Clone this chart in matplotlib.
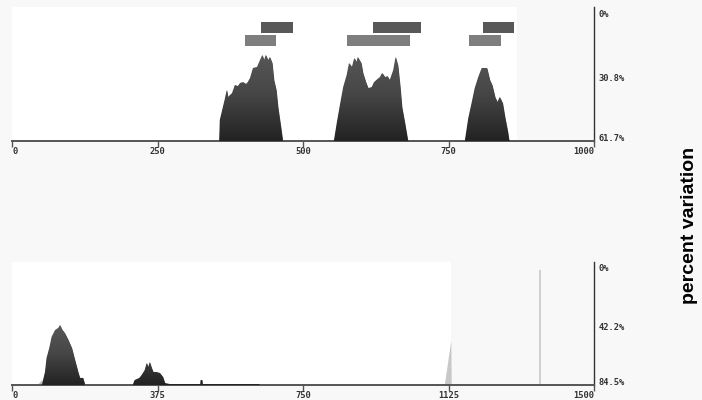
import matplotlib

matplotlib.use("Agg")

import matplotlib.pyplot as plt
import numpy as np
from matplotlib.colors import LinearSegmentedColormap

# ---- top track (length 868, axis 0-1000, scale 0-61.7) ----
top_len = 868
top_peaks = [
    ([349, 356, 357, 366, 369, 371, 378, 383, 388, 392, 397, 402, 405, 409, 414, 421,
      426, 430, 433, 436, 440, 443, 447, 450, 454, 457, 462, 465, 466],
     [0, 0, 10.1, 20.7, 24.6, 21.2, 23.1, 27.0, 26.5, 28.0, 28.4, 27.5, 28.4, 30.4, 35.2,
      35.7, 39.0, 41.5, 39.0, 41.5, 39.0, 40.5, 37.6, 29.4, 24.6, 16.4, 6.7, 0.5, 0]),
    ([553, 558, 564, 569, 575, 579, 584, 588, 592, 594, 600, 603, 608, 612, 618, 622,
      628, 632, 636, 641, 645, 649, 655, 659, 663, 667, 670, 675, 680, 681],
     [0, 8.7, 18.3, 26.0, 31.8, 37.6, 35.7, 40.0, 38.1, 40.5, 37.6, 32.8, 28.4, 25.5,
      26.0, 28.4, 29.9, 30.8, 32.8, 30.8, 31.3, 29.4, 34.2, 40.5, 36.6, 26.0, 16.4, 8.7,
      0.5, 0]),
    ([778, 784, 790, 795, 801, 807, 816, 821, 825, 830, 834, 838, 843, 847, 852, 854, 856],
     [0, 11.1, 18.8, 25.5, 30.8, 35.2, 35.2, 29.4, 27.0, 21.2, 18.8, 21.2, 18.3, 11.6,
      4.3, 0.5, 0]),
]
# feature boxes above the peaks: (start, end)
top_row1 = [(428, 483), (620, 703), (809, 862)]
top_row2 = [(400, 454), (576, 684), (785, 840)]
top_ticks = [0, 250, 500, 750, 1000]
top_scale = ["61.7%", "30.8%", "0%"]

# ---- bottom track (length 1132, axis 0-1500, scale 0-84.5) ----
bot_len = 1132
bot_peaks = [
    ([77, 85, 89, 96, 102, 111, 119, 124, 128, 136, 145, 154, 162, 171, 175, 183, 188],
     [0, 9.4, 19.5, 26.7, 34.7, 39.7, 41.2, 43.3, 40.4, 37.5, 32.5, 26.7, 18.1, 8.7,
      5.1, 5.1, 0]),
    ([311, 316, 328, 334, 342, 347, 351, 355, 359, 364, 372, 381, 389, 394, 407, 409],
     [0, 3.6, 5.1, 7.2, 10.8, 15.9, 13.0, 16.6, 13.0, 9.4, 9.4, 8.7, 5.8, 1.4, 0.7, 0]),
    ([485, 486, 490, 491], [0, 3.6, 3.6, 0]),
    ([407, 408, 637, 638], [0, 0.7, 0.7, 0]),
]
bot_lead = ([64, 77, 79], [0, 4.0, 0])
bot_light = ([1114, 1131, 1132], [0, 32.5, 0])
bot_line_pos = 1360
bot_line_top = 83
bot_ticks = [0, 375, 750, 1125, 1500]
bot_scale = ["84.5%", "42.2%", "0%"]

BG = "#f8f8f8"
shade = LinearSegmentedColormap.from_list("shade", ["#222222", "#464646", "#5a5a5a"])


def shaded_fill(ax, xs, ys, ymax):
    poly = ax.fill_between(xs, 0, ys, color="#444444", linewidth=0, zorder=2)
    grad = np.linspace(0, 1, 256).reshape(-1, 1)
    im = ax.imshow(grad, extent=[min(xs), max(xs), 0, ymax], origin="lower",
                   cmap=shade, aspect="auto", zorder=3, interpolation="bilinear")
    im.set_clip_path(poly.get_paths()[0], transform=ax.transData)


def style_track(ax, length, xmax, ymax, scale_max, ticks, scale_labels):
    ax.set_facecolor(BG)
    ax.axvspan(0, length, color="white", zorder=0, linewidth=0)
    ax.set_xlim(0, xmax)
    ax.set_ylim(0, ymax)
    for s in ("top", "left"):
        ax.spines[s].set_visible(False)
    ax.spines["bottom"].set_color("#555555")
    ax.spines["bottom"].set_linewidth(1.4)
    ax.spines["right"].set_color("#333333")
    ax.spines["right"].set_linewidth(1.0)
    ax.set_xticks(ticks)
    ax.set_xticklabels([str(t) for t in ticks], family="DejaVu Sans Mono",
                       fontsize=6.3, fontweight="bold", color="#333333")
    labels = ax.get_xticklabels()
    labels[0].set_ha("left")
    labels[-1].set_ha("right")
    ax.tick_params(axis="x", direction="out", length=4, width=1, color="#555555", pad=0)
    ax.yaxis.tick_right()
    ax.set_yticks([0, scale_max / 2, scale_max])
    ax.set_yticklabels(scale_labels, family="DejaVu Sans Mono", fontsize=6.3,
                       fontweight="bold", color="#333333")
    ax.get_yticklabels()[0].set_va("baseline")
    ax.tick_params(axis="y", length=0, pad=3)


fig = plt.figure(figsize=(7.02, 4.0), dpi=100, facecolor=BG)
ax_top = fig.add_axes([12 / 702, 259 / 400, 582 / 702, 134 / 400])
ax_bot = fig.add_axes([12 / 702, 15 / 400, 582 / 702, 123 / 400])

top_ymax = 64.6
style_track(ax_top, top_len, 1000, top_ymax, 61.7, top_ticks, top_scale)
for xs, ys in top_peaks:
    shaded_fill(ax_top, xs, ys, 45)
for (a, b) in top_row1:
    ax_top.broken_barh([(a, b - a)], (52.1, 5.3), facecolor="#585858", zorder=4)
for (a, b) in top_row2:
    ax_top.broken_barh([(a, b - a)], (45.8, 5.3), facecolor="#7e7e7e", zorder=4)

bot_ymax = 88.8
style_track(ax_bot, bot_len, 1500, bot_ymax, 84.5, bot_ticks, bot_scale)
ax_bot.fill_between(bot_lead[0], 0, bot_lead[1], color="#bdbdbd", linewidth=0, zorder=1)
for xs, ys in bot_peaks:
    shaded_fill(ax_bot, xs, ys, 45)
ax_bot.fill_between(bot_light[0], 0, bot_light[1], color="#c8c8c8", linewidth=0, zorder=2)
ax_bot.vlines(bot_line_pos, 0, bot_line_top, color="#c8c8c8", linewidth=1.2, zorder=2)

fig.text(690 / 702, 175 / 400, "percent variation", rotation=90, ha="center",
         va="center", fontsize=14, fontweight="bold", family="Liberation Sans")

fig.savefig("out.png", dpi=100, facecolor=BG)
plt.close(fig)
